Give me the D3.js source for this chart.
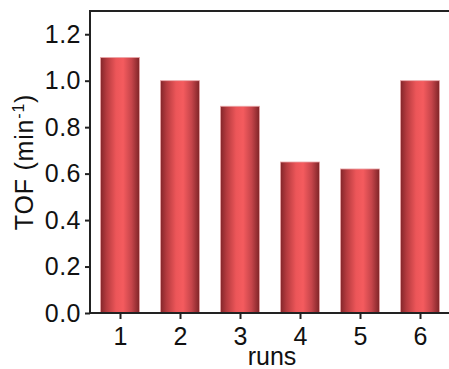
<!DOCTYPE html>
<html>
<head>
<meta charset="utf-8">
<script src="https://cdn.jsdelivr.net/npm/d3@7"></script>
<style>
    body { margin: 0; background: #fff; }
    svg { display: block; font-family: Arial, "Liberation Sans", sans-serif; }
</style>
</head>
<body>
<svg id="chart" width="449" height="369"></svg>
<script>
var runs = [1, 2, 3, 4, 5, 6];
var tof = [1.10, 1.00, 0.89, 0.65, 0.62, 1.00];
var yTicks = [0, 0.2, 0.4, 0.6, 0.8, 1.0, 1.2];

var svg = d3.select("#chart");
var margin = { left: 90, top: 11, right: 450, bottom: 313 };

var x = d3.scaleLinear().domain([0.5, 6.5]).range([margin.left, margin.right]);
var y = d3.scaleLinear().domain([0, 1.3]).range([margin.bottom, margin.top]);
var barW = 39;
var fontSize = "25px";

// gradient for the bars
var defs = svg.append("defs");
var grad = defs.append("linearGradient")
    .attr("id", "barGrad")
    .attr("x1", "0%").attr("x2", "100%")
    .attr("y1", "0%").attr("y2", "0%");
[
    ["0%", "#82262a"],
    ["15%", "#b43a3e"],
    ["40%", "#ec5659"],
    ["58%", "#f45b5e"],
    ["80%", "#c5444a"],
    ["100%", "#7e2427"]
].forEach(function (s) {
    grad.append("stop").attr("offset", s[0]).attr("stop-color", s[1]);
});

// bars
svg.append("g")
    .selectAll("rect")
    .data(runs)
    .enter().append("rect")
    .attr("x", function (d) { return x(d) - barW / 2; })
    .attr("y", function (d, i) { return y(tof[i]); })
    .attr("width", barW)
    .attr("height", function (d, i) { return y(0) - y(tof[i]); })
    .attr("fill", "url(#barGrad)")
    .attr("stroke", "#eba6a8")
    .attr("stroke-width", 0.8);

// frame (top and left; right is off canvas)
svg.append("line")
    .attr("x1", margin.left).attr("x2", margin.right)
    .attr("y1", margin.top).attr("y2", margin.top)
    .attr("stroke", "#222").attr("stroke-width", 2);

// y axis
var yAxis = svg.append("g")
    .attr("transform", "translate(" + margin.left + ",0)")
    .call(d3.axisLeft(y).tickValues(yTicks).tickFormat(d3.format(".1f")).tickSize(5).tickSizeOuter(0));
yAxis.select(".domain").remove();
yAxis.append("line")
    .attr("x1", 0).attr("x2", 0)
    .attr("y1", margin.top - 1).attr("y2", margin.bottom + 1)
    .attr("stroke", "#222").attr("stroke-width", 2);
yAxis.selectAll(".tick line").attr("stroke", "#222").attr("stroke-width", 2);
yAxis.selectAll(".tick text")
    .attr("x", -9)
    .attr("fill", "#111")
    .style("font-size", fontSize)
    .style("letter-spacing", "0.5px")
    .style("font-family", "Arial, 'Liberation Sans', sans-serif");

// x axis
var xAxis = svg.append("g")
    .attr("transform", "translate(0," + margin.bottom + ")")
    .call(d3.axisBottom(x).tickValues(runs).tickFormat(d3.format("d")).tickSize(6).tickSizeOuter(0));
xAxis.select(".domain").remove();
xAxis.append("line")
    .attr("x1", margin.left - 1).attr("x2", margin.right)
    .attr("y1", 0).attr("y2", 0)
    .attr("stroke", "#222").attr("stroke-width", 2);
xAxis.selectAll(".tick line").attr("stroke", "#222").attr("stroke-width", 2);
xAxis.selectAll(".tick text")
    .attr("y", 32)
    .attr("dy", null)
    .attr("fill", "#111")
    .style("font-size", fontSize)
    .style("font-family", "Arial, 'Liberation Sans', sans-serif");

// axis titles
svg.append("text")
    .attr("x", 272).attr("y", 365)
    .attr("text-anchor", "middle")
    .attr("fill", "#111")
    .style("font-size", fontSize)
    .text("runs");

var yt = svg.append("text")
    .attr("transform", "translate(33,162) rotate(-90)")
    .attr("text-anchor", "middle")
    .attr("fill", "#111")
    .style("font-size", fontSize)
    .style("letter-spacing", "0.8px");
yt.append("tspan").text("TOF (min");
yt.append("tspan").attr("dy", -9).style("font-size", "16px").text("-1");
yt.append("tspan").attr("dy", 9).text(")");
</script>
</body>
</html>
